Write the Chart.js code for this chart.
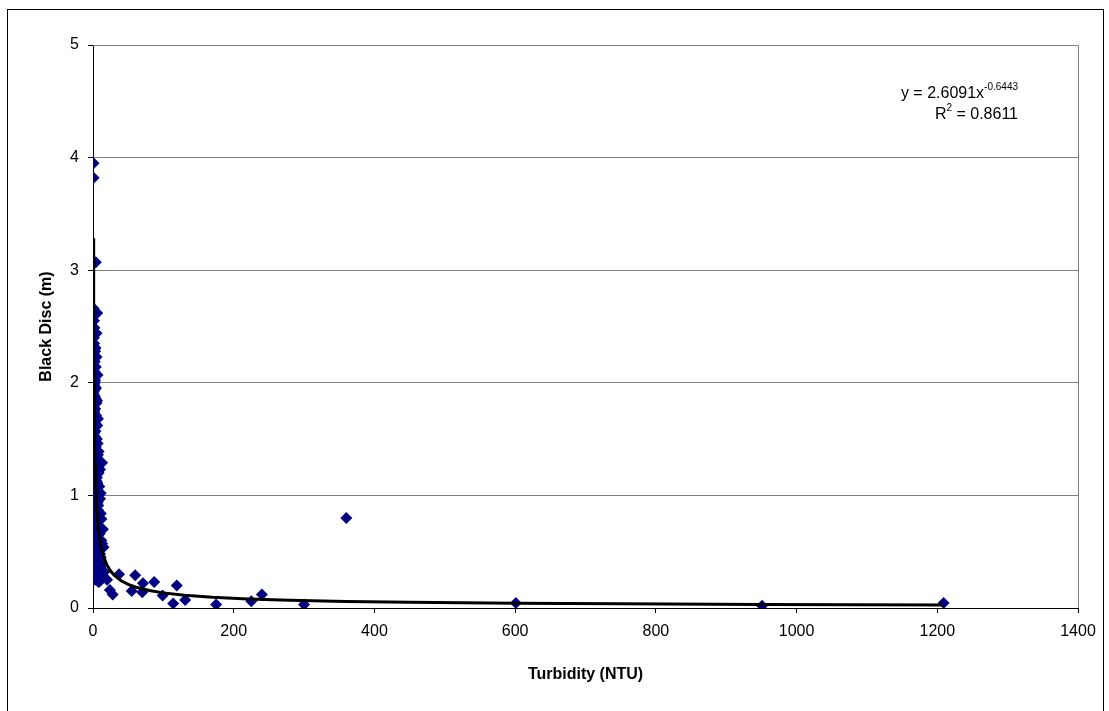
<!DOCTYPE html>
<html>
<head>
<meta charset="utf-8">
<script src="https://cdn.jsdelivr.net/npm/chart.js@4.4.1/dist/chart.umd.min.js"></script>
<style>
  html, body { margin: 0; padding: 0; background: #fff; }
  #wrap { width: 1109px; height: 711px; }
</style>
</head>
<body>
<div id="wrap"><canvas id="chart" width="1109" height="711"></canvas></div>
<script>
// turbidity (NTU) vs black disc visibility (m)
const turbidity = [
  0.8, 0.9, 4, 1, 6, 1.5, 2, 0.7, 5, 1.2, 3, 5, 1, 4, 2, 0.9, 3, 1.5, 4, 0.8,
  2.5, 1.2, 5, 0.7, 3, 1.8, 4.5, 1, 2.2, 6, 0.9, 3.5, 1.4, 2.8, 5.5, 0.8, 2, 4, 1.1, 3,
  7, 0.7, 2.4, 13, 5, 1.3, 3.2, 8, 0.9, 2.6, 4.8, 1.6, 9, 3.4, 0.8, 6, 2, 10, 1.2, 4,
  7.5, 2.8, 0.7, 11, 5.5, 1.5, 8.5, 3.6, 1, 6.5, 14, 2.2, 9.5, 4.4, 0.9, 12, 7, 2.5, 15, 5,
  1.4, 10, 3.5, 8, 1, 6, 13, 2.5, 4, 9, 1.5, 7, 14, 10, 20,
  2.5, 1.3, 3.8, 0.8, 2.7, 4.2, 1.1, 3.3, 0.9, 5.2, 1.7, 3.9, 2.1, 6.3, 1.4, 4.6, 3, 7, 1.8, 5,
  2.6, 8, 3.7, 6, 1.1, 9, 4.3, 11, 2,
  1.6, 3.6, 0.8, 2.4, 6.5, 1.7, 3.4, 0.9, 5.8, 2.1, 7, 0.8, 3, 1.3, 6.7, 2.3, 8, 4, 0.7, 10,
  1.9, 5.6, 3.1, 11, 0.8, 6.8, 2.4, 12, 4.5, 0.9, 8.8, 13, 3.2, 7.2, 1.2, 5.4, 16, 11, 3, 8,
  28, 24, 37, 60, 55, 71, 70, 87, 99, 114, 119, 131, 175, 225, 240, 300,
  360, 601, 951, 1209
];
const blackDisc = [
  3.95, 3.82, 3.07, 2.66, 2.62, 2.55, 2.49, 2.45, 2.44, 2.40, 2.28, 2.23, 2.18, 2.14, 2.10, 2.05, 2.02, 1.98, 1.95, 1.92,
  1.88, 1.85, 1.82, 1.80, 1.77, 1.74, 1.71, 1.68, 1.65, 1.62, 1.60, 1.57, 1.55, 1.52, 1.50, 1.48, 1.45, 1.43, 1.40, 1.38,
  1.36, 1.33, 1.31, 1.29, 1.27, 1.25, 1.22, 1.20, 1.18, 1.15, 1.13, 1.10, 1.08, 1.06, 1.03, 1.01, 0.99, 0.97, 0.95, 0.93,
  0.91, 0.88, 0.86, 0.84, 0.82, 0.80, 0.78, 0.76, 0.74, 0.72, 0.70, 0.68, 0.66, 0.64, 0.62, 0.60, 0.58, 0.56, 0.54, 0.52,
  0.50, 0.48, 0.46, 0.44, 0.42, 0.40, 0.38, 0.36, 0.33, 0.30, 0.28, 0.26, 0.27, 0.24, 0.25,
  2.00, 1.93, 1.86, 1.79, 1.70, 1.63, 1.58, 1.47, 1.42, 1.34, 1.29, 1.24, 1.17, 1.11, 1.05, 0.98, 0.92, 0.87, 0.83, 0.77,
  0.71, 0.69, 0.63, 0.57, 0.55, 0.51, 0.47, 0.45, 0.43,
  2.35, 2.31, 2.26, 2.19, 2.07, 2.03, 1.96, 1.90, 1.84, 1.76, 1.68, 1.66, 1.61, 1.53, 1.46, 1.41, 1.39, 1.32, 1.27, 1.23,
  1.19, 1.16, 1.12, 1.02, 0.96, 0.94, 0.90, 0.79, 0.73, 0.67, 0.61, 0.57, 0.53, 0.49, 0.39, 0.35, 0.32, 0.29, 0.25, 0.23,
  0.12, 0.16, 0.30, 0.29, 0.15, 0.22, 0.14, 0.23, 0.11, 0.04, 0.20, 0.07, 0.03, 0.06, 0.12, 0.03,
  0.80, 0.045, 0.02, 0.045
];

// power trendline y = a * x^b, coefficients as printed on the chart
const trendCoef = [2.6091, -0.6443];
const trendR2 = 0.8611;
const trendX = [0.7, 0.8, 0.9, 1, 1.2, 1.5, 2, 2.5, 3, 4, 5, 6, 8, 10, 12, 15, 20, 25, 30, 40,
  50, 60, 80, 100, 130, 170, 220, 280, 360, 450, 600, 750, 950, 1209];

const xTicks = [0, 200, 400, 600, 800, 1000, 1200, 1400];
const yTicks = [0, 1, 2, 3, 4, 5];

const points = turbidity.map((x, i) => ({ x: x, y: blackDisc[i] }));
const trend = trendX.map(x => ({ x: x, y: trendCoef[0] * Math.pow(x, trendCoef[1]) }));

const FONT = '"Liberation Sans", Arial, sans-serif';

// gray plot frame, outer chart border and the trendline equation
const decorations = {
  id: 'decorations',
  beforeDatasetsDraw(chart) {
    const { ctx, chartArea: a } = chart;
    ctx.save();
    ctx.strokeStyle = '#808080';
    ctx.lineWidth = 1;
    ctx.beginPath();
    ctx.moveTo(a.left, a.top + 0.5);
    ctx.lineTo(a.right + 0.5, a.top + 0.5);
    ctx.lineTo(a.right + 0.5, a.bottom);
    ctx.stroke();
    ctx.restore();
  },
  afterDraw(chart) {
    const { ctx } = chart;
    ctx.save();
    ctx.strokeStyle = '#000';
    ctx.lineWidth = 1;
    ctx.strokeRect(7.5, 9.5, 1096, 720);

    ctx.fillStyle = '#000';
    ctx.textBaseline = 'alphabetic';
    const big = '16px ' + FONT, small = '10px ' + FONT;
    const right = 1018;
    // line 1: y = 2.6091x^-0.6443
    const main1 = 'y = ' + trendCoef[0].toFixed(4) + 'x';
    const sup1 = trendCoef[1].toFixed(4);
    ctx.font = big; const w1 = ctx.measureText(main1).width;
    ctx.font = small; const s1 = ctx.measureText(sup1).width;
    let x0 = right - (w1 + s1);
    ctx.font = big; ctx.fillText(main1, x0, 98);
    ctx.font = small; ctx.fillText(sup1, x0 + w1, 90);
    // line 2: R^2 = 0.8611
    const r = 'R', eq = ' = ' + trendR2.toFixed(4);
    ctx.font = big; const wr = ctx.measureText(r).width, we = ctx.measureText(eq).width;
    ctx.font = small; const w2 = ctx.measureText('2').width;
    x0 = right - (wr + w2 + we);
    ctx.font = big; ctx.fillText(r, x0, 119);
    ctx.font = small; ctx.fillText('2', x0 + wr, 111);
    ctx.font = big; ctx.fillText(eq, x0 + wr + w2, 119);
    ctx.restore();
  }
};

new Chart(document.getElementById('chart'), {
  type: 'scatter',
  data: {
    datasets: [
      {
        label: 'Power trend',
        data: trend,
        showLine: true,
        borderColor: '#000',
        borderWidth: 3,
        pointRadius: 0,
        tension: 0
      },
      {
        label: 'Black Disc',
        data: points,
        pointStyle: 'rectRot',
        pointRadius: 6,
        backgroundColor: '#000080',
        borderColor: '#000080',
        borderWidth: 0
      }
    ]
  },
  options: {
    responsive: false,
    animation: false,
    layout: { padding: { top: 45, right: 31, bottom: 0, left: 34 } },
    plugins: { legend: { display: false }, tooltip: { enabled: false } },
    scales: {
      x: {
        type: 'linear', min: 0, max: 1400,
        afterBuildTicks: s => { s.ticks = xTicks.map(v => ({ value: v })); },
        afterFit: s => { s.height = 103; },
        ticks: { color: '#000', font: { family: FONT, size: 16 }, padding: 9, maxRotation: 0,
                 callback: v => String(v) },
        grid: { drawOnChartArea: false, tickLength: 5, tickColor: '#000' },
        border: { color: '#000', width: 1 },
        title: { display: true, text: 'Turbidity (NTU)', color: '#000',
                 font: { family: FONT, size: 16, weight: 'bold' }, padding: { top: 4, bottom: 27 } }
      },
      y: {
        min: 0, max: 5,
        afterBuildTicks: s => { s.ticks = yTicks.map(v => ({ value: v })); },
        afterFit: s => { s.width = 59; },
        ticks: { color: '#000', font: { family: FONT, size: 16 }, padding: 9,
                 callback: v => String(v) },
        grid: { color: '#808080', tickLength: 5, tickColor: '#000' },
        border: { color: '#000', width: 1 },
        title: { display: true, text: 'Black Disc (m)', color: '#000',
                 font: { family: FONT, size: 16, weight: 'bold' }, padding: { top: 3, bottom: 4 } }
      }
    }
  },
  plugins: [decorations]
});
</script>
</body>
</html>
